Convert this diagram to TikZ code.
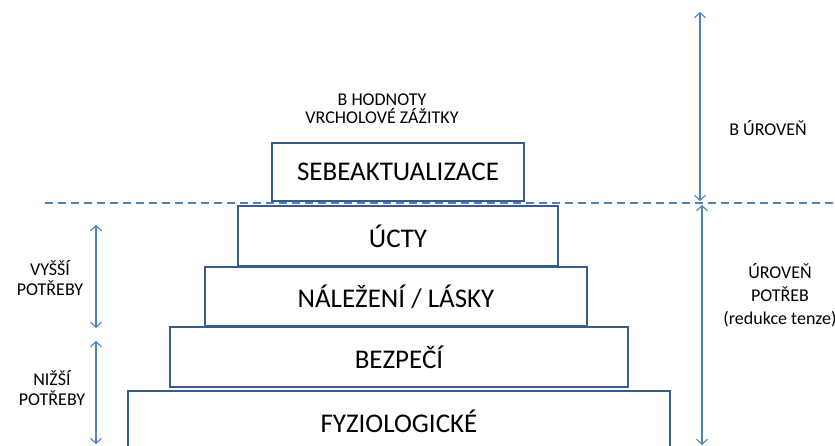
\documentclass[tikz,border=0pt]{standalone}
\usepackage{fontspec}
\setmainfont{Carlito}
\usetikzlibrary{arrows.meta,positioning}
\definecolor{boxblue}{HTML}{385D8A}
\definecolor{lineblue}{HTML}{4F81BD}
\tikzstyle{level} = [rectangle, draw=boxblue, line width=1.6pt, text centered, inner sep=0pt, font=\fontsize{27}{32}\selectfont]
\tikzstyle{note} = [align=center, font=\fontsize{18}{18}\selectfont]
\tikzstyle{span} = [lineblue, line width=1.1pt, {Straight Barb[length=5pt,width=11pt]}-{Straight Barb[length=5pt,width=11pt]}]
\tikzstyle{divider} = [lineblue, line width=1.5pt, dash pattern=on 8pt off 5pt]
\begin{document}
\begin{tikzpicture}[x=1pt,y=-1pt]
            \useasboundingbox (0,0) rectangle (835,446);
            \clip (0,0) rectangle (835,446);
            % pyramid
            \node (self) [level,minimum width=252pt,minimum height=58pt] at (398,172) {SEBEAKTUALIZACE};
            \node (esteem) [level,minimum width=320pt,minimum height=60pt] at (398,236) {ÚCTY};
            \node (love) [level,minimum width=382pt,minimum height=59pt] at (396,296.5) {NÁLEŽENÍ / LÁSKY};
            \node (safety) [level,minimum width=458pt,minimum height=60pt] at (399,357) {BEZPEČÍ};
            \node (body) [level,minimum width=542pt,minimum height=60pt] at (399,421) {FYZIOLOGICKÉ};
            % labels
            \node (bvalues) [note] at (382,109) {B HODNOTY\\VRCHOLOVÉ ZÁŽITKY};
            \node (blevel) [note] at (768,128) {B ÚROVEŇ};
            \node (needlevel) [note,font=\fontsize{18}{23}\selectfont] at (780,295) {ÚROVEŇ\\POTŘEB\\(redukce tenze)};
            \node (higher) [note,font=\fontsize{18}{20}\selectfont] at (50,278) {VYŠŠÍ\\POTŘEBY};
            \node (lower) [note,font=\fontsize{18}{20}\selectfont] at (52,388) {NIŽŠÍ\\POTŘEBY};
            % ends of the spans
            \coordinate (dashL) at (45,203);
            \coordinate (dashR) at (835,203);
            \coordinate (btop) at (700,12);
            \coordinate (bbot) at (700,201);
            \coordinate (ntop) at (702,205);
            \coordinate (nbot) at (702,445);
            \coordinate (htop) at (96,225);
            \coordinate (hbot) at (96,328);
            \coordinate (ltop) at (96,341);
            \coordinate (lbot) at (96,444);
            \draw [divider] (dashL) -- (dashR);
            \draw [span] (btop) -- (bbot);
            \draw [span] (ntop) -- (nbot);
            \draw [span] (htop) -- (hbot);
            \draw [span] (ltop) -- (lbot);
        \end{tikzpicture}
\end{document}
